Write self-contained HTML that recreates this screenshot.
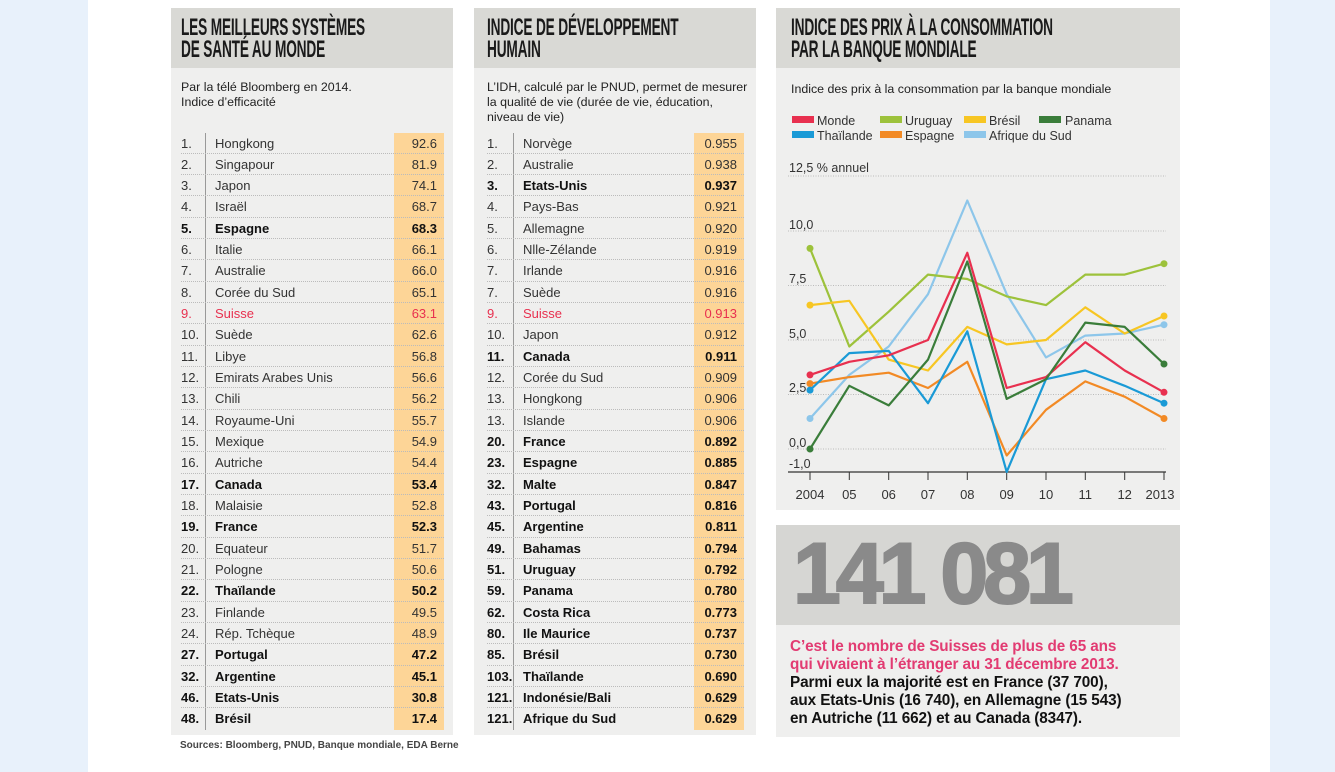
<!DOCTYPE html>
<html><head><meta charset="utf-8"><style>
*{margin:0;padding:0;box-sizing:border-box}
body{width:1335px;height:772px;background:#e8f1fb;position:relative;overflow:hidden;font-family:"Liberation Sans",sans-serif;color:#222}
.white{position:absolute;left:88px;top:0;width:1182px;height:772px;background:#fff}
.panel{position:absolute;background:#efefee}
.hdr{position:absolute;background:#d9d9d5}
.ttl{position:absolute;font-family:"Liberation Sans",sans-serif;font-weight:bold;font-size:24px;line-height:22px;color:#1a1a1a;transform:scaleX(0.57);transform-origin:left top;white-space:nowrap;letter-spacing:-0.3px}
.desc{position:absolute;font-family:"Liberation Sans",sans-serif;font-size:12.4px;line-height:15px;color:#222;white-space:nowrap}
.ob{position:absolute;background:#fdd597}
.r{position:absolute;height:21.33px;border-bottom:1px dotted #bbb;font-family:"Liberation Sans",sans-serif;font-size:13px;line-height:21px;color:#333}
.r span{position:absolute;top:0}
.r .v{text-align:right}
.r.b{font-weight:bold;font-size:13px;color:#111}
.r.red{color:#e8304f}
.vl{position:absolute;width:1px;background:#999}
</style></head><body>
<div class="white"></div>

<!-- Panel 1 -->
<div class="panel" style="left:171px;top:8px;width:282px;height:727px"></div>
<div class="hdr" style="left:171px;top:8px;width:282px;height:60px"></div>
<div class="ttl" style="left:181px;top:17px">LES MEILLEURS SYSTÈMES<br>DE SANTÉ AU MONDE</div>
<div class="desc" style="left:181px;top:80px">Par la télé Bloomberg en 2014.<br>Indice d’efficacité</div>
<div class="ob" style="left:394px;top:133px;width:50px;height:597px"></div>
<div class="vl" style="left:205px;top:133px;height:597px"></div>
<div id="t1"></div>

<!-- Panel 2 -->
<div class="panel" style="left:474px;top:8px;width:282px;height:727px"></div>
<div class="hdr" style="left:474px;top:8px;width:282px;height:60px"></div>
<div class="ttl" style="left:487px;top:17px">INDICE DE DÉVELOPPEMENT<br>HUMAIN</div>
<div class="desc" style="left:487px;top:80px">L’IDH, calculé par le PNUD, permet de mesurer<br>la qualité de vie (durée de vie, éducation,<br>niveau de vie)</div>
<div class="ob" style="left:694px;top:133px;width:50px;height:597px"></div>
<div class="vl" style="left:513px;top:133px;height:597px"></div>
<div id="t2"></div>

<div style="position:absolute;left:180px;top:740px;font-size:10px;font-weight:bold;color:#444">Sources: Bloomberg, PNUD, Banque mondiale, EDA Berne</div>

<!-- Panel 3 -->
<div class="panel" style="left:776px;top:8px;width:404px;height:502px"></div>
<div class="hdr" style="left:776px;top:8px;width:404px;height:60px"></div>
<div class="ttl" style="left:791px;top:17px">INDICE DES PRIX À LA CONSOMMATION<br>PAR LA BANQUE MONDIALE</div>
<div class="desc" style="left:791px;top:82px">Indice des prix à la consommation par la banque mondiale</div>

<svg style="position:absolute;left:0;top:0" width="1335" height="772" font-family="Liberation Sans, sans-serif" font-size="12.5" fill="#333">
<g>
<rect x="792" y="116" width="22" height="7" fill="#e8304f"/><text x="817" y="125">Monde</text>
<rect x="880" y="116" width="22" height="7" fill="#9dc23b"/><text x="905" y="125">Uruguay</text>
<rect x="964" y="116" width="22" height="7" fill="#f7c623"/><text x="989" y="125">Brésil</text>
<rect x="1039" y="116" width="22" height="7" fill="#3a7d3a"/><text x="1065" y="125">Panama</text>
<rect x="792" y="131" width="22" height="7" fill="#1a9ad6"/><text x="817" y="140">Thaïlande</text>
<rect x="880" y="131" width="22" height="7" fill="#f28a25"/><text x="905" y="140">Espagne</text>
<rect x="964" y="131" width="22" height="7" fill="#8dc6ea"/><text x="989" y="140">Afrique du Sud</text>
</g>
<g stroke="#bbb" stroke-dasharray="1,1.5">
<line x1="788" y1="176" x2="1166" y2="176"/>
<line x1="788" y1="231" x2="1166" y2="231"/>
<line x1="788" y1="285.5" x2="1166" y2="285.5"/>
<line x1="788" y1="340" x2="1166" y2="340"/>
<line x1="788" y1="394.5" x2="1166" y2="394.5"/>
<line x1="788" y1="449" x2="1166" y2="449"/>
</g>
<text x="789" y="172">12,5 % annuel</text>
<text x="789" y="229">10,0</text>
<text x="789" y="283">7,5</text>
<text x="789" y="338">5,0</text>
<text x="789" y="392">2,5</text>
<text x="789" y="447">0,0</text>
<text x="789" y="468">-1,0</text>
<line x1="788" y1="472" x2="1166" y2="472" stroke="#333" stroke-width="1.2"/>
<g stroke="#333"><line x1="810" y1="472" x2="810" y2="480"/><line x1="849.3" y1="472" x2="849.3" y2="480"/><line x1="888.7" y1="472" x2="888.7" y2="480"/><line x1="928" y1="472" x2="928" y2="480"/><line x1="967.3" y1="472" x2="967.3" y2="480"/><line x1="1006.7" y1="472" x2="1006.7" y2="480"/><line x1="1046" y1="472" x2="1046" y2="480"/><line x1="1085.3" y1="472" x2="1085.3" y2="480"/><line x1="1124.7" y1="472" x2="1124.7" y2="480"/><line x1="1164" y1="472" x2="1164" y2="480"/></g>
<g text-anchor="middle" font-size="13"><text x="810" y="499">2004</text><text x="849.3" y="499">05</text><text x="888.7" y="499">06</text><text x="928" y="499">07</text><text x="967.3" y="499">08</text><text x="1006.7" y="499">09</text><text x="1046" y="499">10</text><text x="1085.3" y="499">11</text><text x="1124.7" y="499">12</text><text x="1160" y="499">2013</text></g>
<g fill="none" stroke-width="2.2" stroke-linejoin="round">
<polyline stroke="#8dc6ea" points="810,418.5 849.3,374.9 888.7,346.5 928,294.2 967.3,200.5 1006.7,294.2 1046,357.4 1085.3,335.6 1124.7,333.5 1164,324.7"/>
<polyline stroke="#9dc23b" points="810,248.4 849.3,346.5 888.7,311.7 928,274.6 967.3,279 1006.7,296.4 1046,305.1 1085.3,274.6 1124.7,274.6 1164,263.7"/>
<polyline stroke="#f7c623" points="810,305.1 849.3,300.8 888.7,359.6 928,370.5 967.3,326.9 1006.7,344.4 1046,340 1085.3,307.3 1124.7,333.5 1164,316"/>
<polyline stroke="#f28a25" points="810,383.6 849.3,377.1 888.7,372.7 928,388 967.3,361.8 1006.7,455.5 1046,409.8 1085.3,381.4 1124.7,396.7 1164,418.5"/>
<polyline stroke="#1a9ad6" points="810,390.1 849.3,353.1 888.7,350.9 928,403.2 967.3,331.3 1006.7,471.9 1046,379.2 1085.3,370.5 1124.7,385.8 1164,403.2"/>
<polyline stroke="#e8304f" points="810,374.9 849.3,361.8 888.7,355.3 928,340 967.3,252.8 1006.7,388 1046,377.1 1085.3,342.2 1124.7,370.5 1164,392.3"/>
<polyline stroke="#3a7d3a" points="810,449 849.3,385.8 888.7,405.4 928,359.6 967.3,261.5 1006.7,398.9 1046,379.2 1085.3,322.6 1124.7,326.9 1164,364"/>
</g>
<g>
<circle cx="810" cy="418.5" r="3.5" fill="#8dc6ea"/><circle cx="1164" cy="324.7" r="3.5" fill="#8dc6ea"/>
<circle cx="810" cy="248.4" r="3.5" fill="#9dc23b"/><circle cx="1164" cy="263.7" r="3.5" fill="#9dc23b"/>
<circle cx="810" cy="305.1" r="3.5" fill="#f7c623"/><circle cx="1164" cy="316" r="3.5" fill="#f7c623"/>
<circle cx="810" cy="383.6" r="3.5" fill="#f28a25"/><circle cx="1164" cy="418.5" r="3.5" fill="#f28a25"/>
<circle cx="810" cy="390.1" r="3.5" fill="#1a9ad6"/><circle cx="1164" cy="403.2" r="3.5" fill="#1a9ad6"/>
<circle cx="810" cy="374.9" r="3.5" fill="#e8304f"/><circle cx="1164" cy="392.3" r="3.5" fill="#e8304f"/>
<circle cx="810" cy="449" r="3.5" fill="#3a7d3a"/><circle cx="1164" cy="364" r="3.5" fill="#3a7d3a"/>
</g>
</svg>

<div class="panel" style="left:776px;top:525px;width:404px;height:212px"></div>
<div style="position:absolute;left:776px;top:525px;width:404px;height:100px;background:#d6d6d3"></div>
<div style="position:absolute;left:793px;top:524px;font-family:'Liberation Sans',sans-serif;font-weight:bold;font-size:86px;line-height:100px;color:#8a8a8a;letter-spacing:-5px;-webkit-text-stroke:2px #8a8a8a">141 081</div>
<div style="position:absolute;left:790px;top:638px;font-weight:bold;font-size:15.3px;line-height:18px;color:#111;letter-spacing:-0.1px;white-space:nowrap">
<span style="color:#e23b72">C’est le nombre de Suisses de plus de 65 ans<br>qui vivaient à l’étranger au 31 décembre 2013.</span><br>Parmi eux la majorité est en France (37 700),<br>aux Etats-Unis (16 740), en Allemagne (15 543)<br>en Autriche (11 662) et au Canada (8347).</div>

<script>
var d1=[["1.","Hongkong","92.6"],["2.","Singapour","81.9"],["3.","Japon","74.1"],["4.","Israël","68.7"],["5.","Espagne","68.3","b"],["6.","Italie","66.1"],["7.","Australie","66.0"],["8.","Corée du Sud","65.1"],["9.","Suisse","63.1","red"],["10.","Suède","62.6"],["11.","Libye","56.8"],["12.","Emirats Arabes Unis","56.6"],["13.","Chili","56.2"],["14.","Royaume-Uni","55.7"],["15.","Mexique","54.9"],["16.","Autriche","54.4"],["17.","Canada","53.4","b"],["18.","Malaisie","52.8"],["19.","France","52.3","b"],["20.","Equateur","51.7"],["21.","Pologne","50.6"],["22.","Thaïlande","50.2","b"],["23.","Finlande","49.5"],["24.","Rép. Tchèque","48.9"],["27.","Portugal","47.2","b"],["32.","Argentine","45.1","b"],["46.","Etats-Unis","30.8","b"],["48.","Brésil","17.4","b"]];
var d2=[["1.","Norvège","0.955"],["2.","Australie","0.938"],["3.","Etats-Unis","0.937","b"],["4.","Pays-Bas","0.921"],["5.","Allemagne","0.920"],["6.","Nlle-Zélande","0.919"],["7.","Irlande","0.916"],["7.","Suède","0.916"],["9.","Suisse","0.913","red"],["10.","Japon","0.912"],["11.","Canada","0.911","b"],["12.","Corée du Sud","0.909"],["13.","Hongkong","0.906"],["13.","Islande","0.906"],["20.","France","0.892","b"],["23.","Espagne","0.885","b"],["32.","Malte","0.847","b"],["43.","Portugal","0.816","b"],["45.","Argentine","0.811","b"],["49.","Bahamas","0.794","b"],["51.","Uruguay","0.792","b"],["59.","Panama","0.780","b"],["62.","Costa Rica","0.773","b"],["80.","Ile Maurice","0.737","b"],["85.","Brésil","0.730","b"],["103.","Thaïlande","0.690","b"],["121.","Indonésie/Bali","0.629","b"],["121.","Afrique du Sud","0.629","b"]];
function build(id,d,x0,xn,xv,w){var h="";for(var i=0;i<d.length;i++){var r=d[i];var top=132.5+i*21.33;var cls="r"+(r[3]?" "+r[3]:"");var last=i==d.length-1?"border-bottom:none;":"";h+='<div class="'+cls+'" style="left:'+x0+'px;top:'+top+'px;width:'+w+'px;'+last+'"><span style="left:0">'+r[0]+'</span><span style="left:'+xn+'px">'+r[1]+'</span><span class="v" style="right:'+xv+'px">'+r[2]+'</span></div>';}document.getElementById(id).innerHTML=h;}
build("t1",d1,181,34,7,263);
build("t2",d2,487,36,7,257);
</script>
</body></html>
